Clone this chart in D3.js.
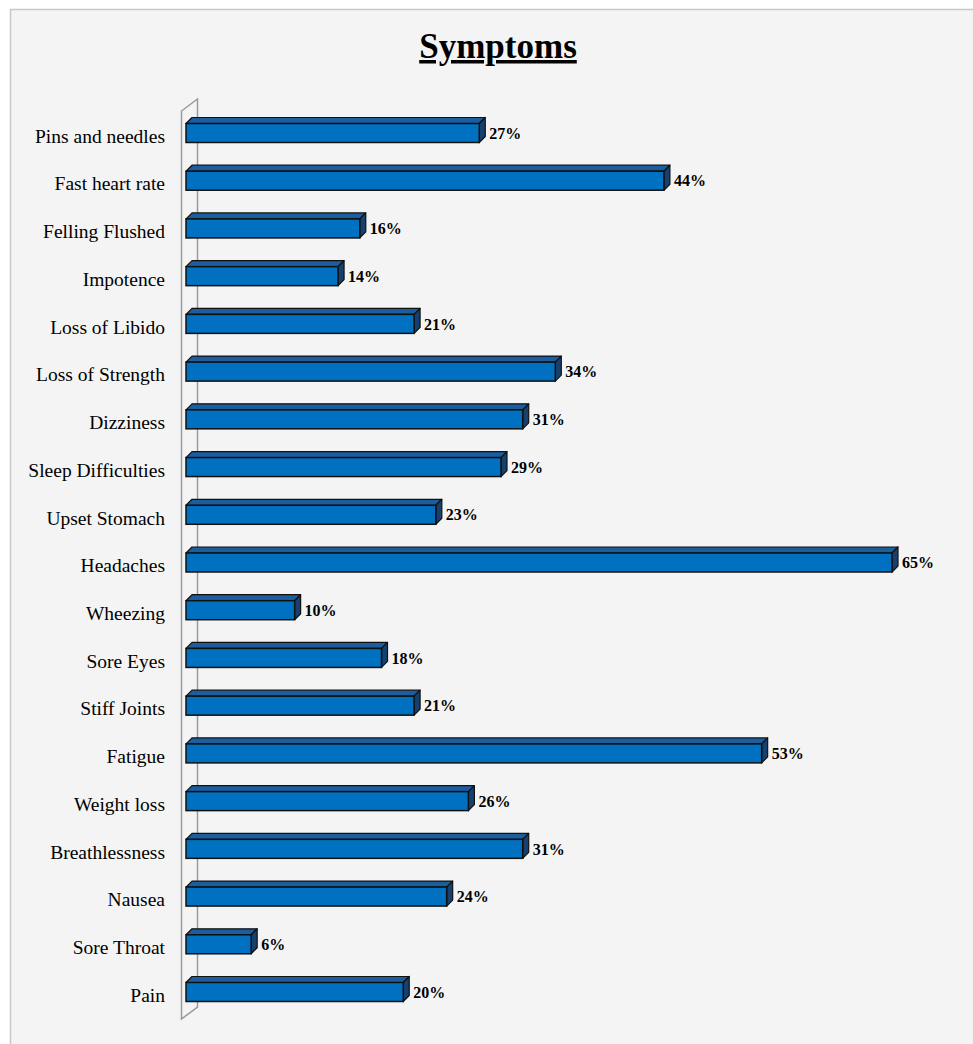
<!DOCTYPE html>
<html><head><meta charset="utf-8">
<script src="https://cdn.jsdelivr.net/npm/d3@7/dist/d3.min.js"></script>
<style>html,body{margin:0;padding:0;background:#fff;}svg{display:block;}</style>
</head><body>
<script>
const categories = ["Pins and needles","Fast heart rate","Felling Flushed","Impotence","Loss of Libido","Loss of Strength","Dizziness","Sleep Difficulties","Upset Stomach","Headaches","Wheezing","Sore Eyes","Stiff Joints","Fatigue","Weight loss","Breathlessness","Nausea","Sore Throat","Pain"];
const values = [27,44,16,14,21,34,31,29,23,65,10,18,21,53,26,31,24,6,20];
const title = "Symptoms";

const W = 973, H = 1044;
const svg = d3.select("body").append("svg").attr("width", W).attr("height", H);

// chart area background + border
svg.append("rect").attr("x", 10.5).attr("y", 9.5).attr("width", W + 5).attr("height", H + 5)
  .attr("fill", "#f4f4f4").attr("stroke", "#c8c8c8").attr("stroke-width", 1.5);

// title
svg.append("text").attr("x", 498).attr("y", 58).attr("text-anchor", "middle")
  .attr("font-family", "'Liberation Serif','Times New Roman',serif").attr("font-weight", "bold")
  .attr("font-size", 35).attr("text-decoration", "underline").attr("fill", "#000").text(title);

const x = d3.scaleLinear().domain([0, 65]).range([186, 892]);
const y = d3.scalePoint().domain(categories).range([133, 992]);
const bh = 19, dx = 6, dy = -6;

// 3D wall
const wx = 181.5, wdx = 16, wdy = -12, wTop = 111, wBot = 1019;
svg.append("path")
  .attr("d", `M${wx},${wBot} L${wx},${wTop} L${wx+wdx},${wTop+wdy} L${wx+wdx},${wBot+wdy} Z`)
  .attr("fill", "none").attr("stroke", "#9a9a9a").attr("stroke-width", 1.5);

const g = svg.append("g");
categories.forEach((c, i) => {
  const x0 = x(0), x1 = x(values[i]);
  const yt = y(c) - bh / 2, yb = y(c) + bh / 2;
  const bar = g.append("g");
  // top face
  bar.append("path").attr("d", `M${x0},${yt} L${x0+dx},${yt+dy} L${x1+dx},${yt+dy} L${x1},${yt} Z`)
    .attr("fill", "#1c5d9e").attr("stroke", "#111").attr("stroke-width", 1.2).attr("stroke-linejoin", "round");
  // side face
  bar.append("path").attr("d", `M${x1},${yt} L${x1+dx},${yt+dy} L${x1+dx},${yb+dy} L${x1},${yb} Z`)
    .attr("fill", "#16406e").attr("stroke", "#111").attr("stroke-width", 1.2).attr("stroke-linejoin", "round");
  // front
  bar.append("rect").attr("x", x0).attr("y", yt).attr("width", x1 - x0).attr("height", bh)
    .attr("fill", "#0070c0").attr("stroke", "#111").attr("stroke-width", 1.5);
  // value label
  g.append("text").attr("x", x1 + dx + 4).attr("y", y(c) + 2).attr("dominant-baseline", "middle")
    .attr("font-family", "'Liberation Serif','Times New Roman',serif").attr("font-weight", "bold")
    .attr("font-size", 16).attr("fill", "#000").text(values[i] + "%");
});

// category axis labels
const yAxis = d3.axisLeft(y).tickSize(0).tickPadding(0);
const ax = svg.append("g").attr("transform", "translate(165,3)").call(yAxis);
ax.select(".domain").remove();
ax.selectAll("text").attr("font-family", "'Liberation Serif','Times New Roman',serif")
  .attr("font-size", 19.5).attr("fill", "#000");
</script>
</body></html>
